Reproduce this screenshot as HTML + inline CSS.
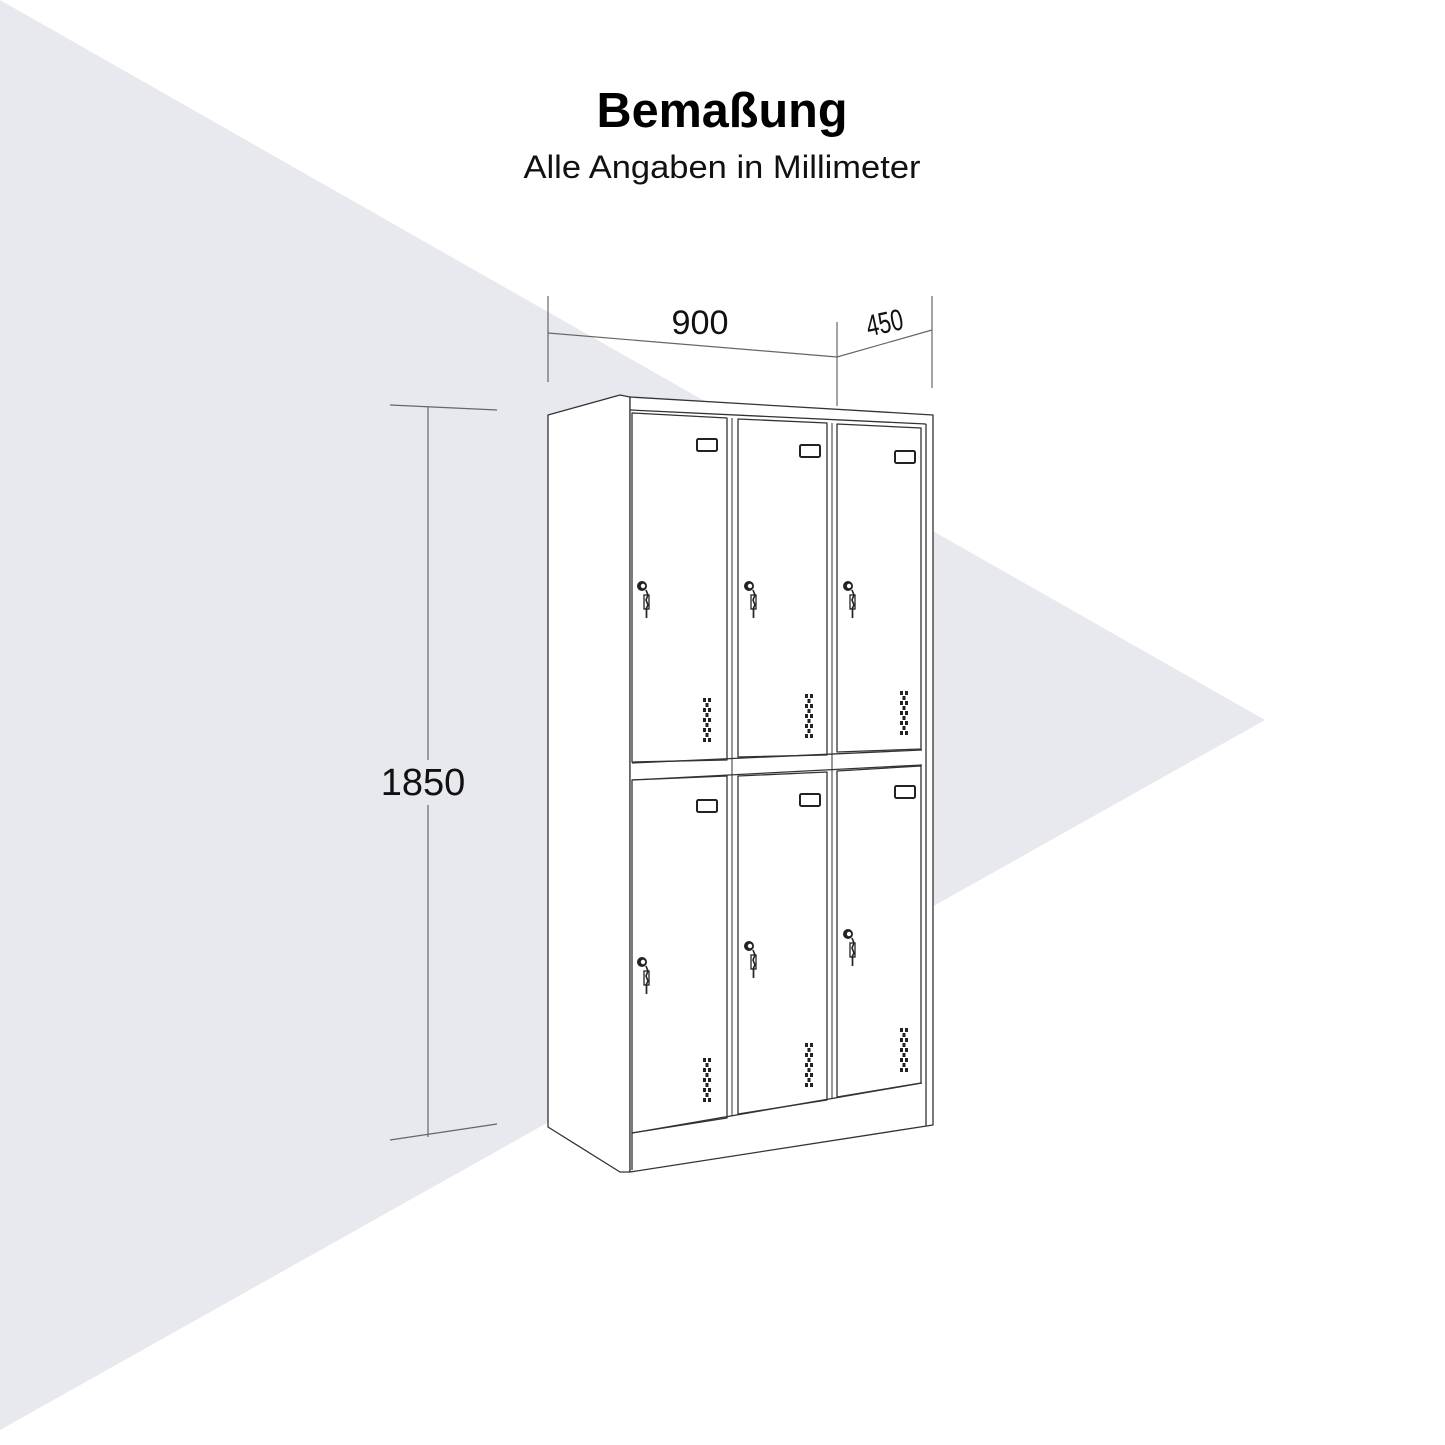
<!DOCTYPE html>
<html><head><meta charset="utf-8"><style>
html,body{margin:0;padding:0;background:#fff;}
svg{display:block;}
</style></head><body>
<svg width="1445" height="1445" viewBox="0 0 1445 1445" xmlns="http://www.w3.org/2000/svg">
<defs>
<g id="lock">
  <circle cx="0" cy="0" r="5" fill="#222"/>
  <circle cx="1" cy="0" r="2.2" fill="#fff"/>
  <path d="M4 4 L6 9 L4 14 L6 19 L4 23" stroke="#222" stroke-width="1.6" fill="none"/>
  <rect x="2" y="9" width="5" height="14" fill="none" stroke="#222" stroke-width="1.3"/>
  <line x1="4.5" y1="23" x2="4.5" y2="32" stroke="#222" stroke-width="1.7"/>
</g>
<g id="vent" fill="#222">
  <rect x="0" y="0" width="3" height="4"/><rect x="5" y="0" width="3" height="4"/>
  <rect x="2.5" y="5" width="3" height="4"/>
  <rect x="0" y="10" width="3" height="4"/><rect x="5" y="10" width="3" height="4"/>
  <rect x="2.5" y="15" width="3" height="4"/>
  <rect x="0" y="20" width="3" height="4"/><rect x="5" y="20" width="3" height="4"/>
  <rect x="2.5" y="25" width="3" height="4"/>
  <rect x="0" y="30" width="3" height="4"/><rect x="5" y="30" width="3" height="4"/>
  <rect x="2.5" y="35" width="3" height="4"/>
  <rect x="0" y="40" width="3" height="4"/><rect x="5" y="40" width="3" height="4"/>
</g>
<rect id="plate" x="0" y="0" width="20" height="12" rx="1.5" fill="#fff" stroke="#222" stroke-width="2"/>
</defs>
<rect width="1445" height="1445" fill="#fff"/>
<polygon points="0,0 1265,720 0,1430" fill="#e8e9ee"/>

<text x="722" y="127" text-anchor="middle" font-family="Liberation Sans, sans-serif" font-weight="bold" font-size="49" fill="#000" textLength="251" lengthAdjust="spacingAndGlyphs">Bemaßung</text>
<text x="722" y="178" text-anchor="middle" font-family="Liberation Sans, sans-serif" font-size="32" fill="#111" textLength="397" lengthAdjust="spacingAndGlyphs">Alle Angaben in Millimeter</text>

<g stroke="#666" stroke-width="1.2" fill="none">
  <line x1="548" y1="296" x2="548" y2="382"/>
  <line x1="837" y1="322" x2="837" y2="406"/>
  <line x1="932" y1="296" x2="932" y2="388"/>
  <line x1="548" y1="333" x2="837" y2="357"/>
  <line x1="837" y1="357" x2="932" y2="330"/>
  <line x1="428" y1="407" x2="428" y2="760"/>
  <line x1="428" y1="805" x2="428" y2="1137"/>
  <line x1="390" y1="405" x2="497" y2="410"/>
  <line x1="390" y1="1140" x2="497" y2="1124"/>
</g>
<text x="700" y="334" text-anchor="middle" font-family="Liberation Sans Narrow, Liberation Sans, sans-serif" font-size="34" fill="#111" textLength="57" lengthAdjust="spacingAndGlyphs">900</text>
<text x="884" y="333" text-anchor="middle" font-family="Liberation Sans Narrow, Liberation Sans, sans-serif" font-size="30" fill="#111" transform="rotate(-12 884 320)" textLength="37" lengthAdjust="spacingAndGlyphs">450</text>
<text x="423" y="795" text-anchor="middle" font-family="Liberation Sans, sans-serif" font-size="38" fill="#111">1850</text>

<g stroke="#333" stroke-width="1.3" fill="#fff" stroke-linejoin="round">
  <polygon points="548,415 620,395 630,397 630,1172 620,1172 548,1127"/>
  <polygon points="630,397 933,415 933,1125 630,1172"/>
  <line x1="630" y1="410" x2="926" y2="424"/>
  <line x1="926" y1="424" x2="926" y2="1126"/>
  <polygon points="632,413 727,418 727,760 632,762"/>
  <polygon points="738,419 827,423 827,755 738,757"/>
  <polygon points="837,424 921,428 921,749 837,752"/>
  <line x1="632" y1="763" x2="922" y2="750"/>
  <line x1="632" y1="780" x2="922" y2="765"/>
  <polygon points="632,780 727,776 727,1118 632,1133"/>
  <polygon points="738,776 827,772 827,1100 738,1114"/>
  <polygon points="837,771 921,766 921,1083 837,1097"/>
  <line x1="632" y1="1133" x2="922" y2="1083"/>
  <line x1="632" y1="1133" x2="632" y2="1170"/>
</g>
<g stroke="#333" stroke-width="1" fill="none">
  <line x1="732" y1="418" x2="732" y2="1116"/>
  <line x1="832" y1="423" x2="832" y2="1098"/>
</g>

<use href="#plate" x="697" y="439"/>
<use href="#plate" x="800" y="445"/>
<use href="#plate" x="895" y="451"/>
<use href="#plate" x="697" y="800"/>
<use href="#plate" x="800" y="794"/>
<use href="#plate" x="895" y="786"/>

<use href="#lock" x="642" y="586"/>
<use href="#lock" x="749" y="586"/>
<use href="#lock" x="848" y="586"/>
<use href="#lock" x="642" y="962"/>
<use href="#lock" x="749" y="946"/>
<use href="#lock" x="848" y="934"/>

<use href="#vent" x="703" y="698"/>
<use href="#vent" x="805" y="694"/>
<use href="#vent" x="900" y="691"/>
<use href="#vent" x="703" y="1058"/>
<use href="#vent" x="805" y="1043"/>
<use href="#vent" x="900" y="1028"/>
</svg>
</body></html>
